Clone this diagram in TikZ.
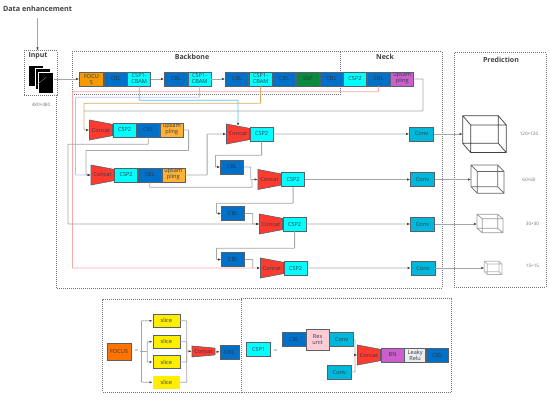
\documentclass[tikz,border=0pt]{standalone}
\usepackage{fontspec}
\setmainfont{Open Sans}
\usepackage{xcolor}
\usetikzlibrary{arrows.meta,positioning,calc,shapes.geometric}
\definecolor{ink}{HTML}{2B3A4A}
\definecolor{edge}{HTML}{56616B}
\definecolor{wire}{HTML}{A6A6A6}
\definecolor{cblblue}{HTML}{0070C8}
\definecolor{cspcyan}{HTML}{00FFFF}
\definecolor{focusorange}{HTML}{F59A00}
\definecolor{sspgreen}{HTML}{0A8A3C}
\definecolor{upmauve}{HTML}{CC5FCC}
\definecolor{uptan}{HTML}{FFB236}
\definecolor{concatred}{HTML}{FF3B2F}
\definecolor{convteal}{HTML}{00B8D9}
\definecolor{sliceyellow}{HTML}{FFEE00}
\definecolor{respink}{HTML}{FFCCD6}
\definecolor{leakygray}{HTML}{EDEDED}
\newcommand{\wirecube}[7]{%
  \draw[draw=#7, line width=0.7pt, shift={(#1,#2)}]
    (0,0) rectangle (#3,#4)
    (#5,#6) rectangle ++(#3,#4)
    (0,0) -- (#5,#6)
    (#3,0) -- ++(#5,#6)
    (0,#4) -- ++(#5,#6)
    (#3,#4) -- ++(#5,#6);
}

\begin{document}
\begin{tikzpicture}[
  x=1pt, y=-1pt,
  box/.style={draw=edge, line width=0.6pt, align=center, inner sep=0pt,
              minimum width=23pt, minimum height=14pt, text=ink,
              font=\fontsize{5.6}{6}\selectfont},
  cbl/.style={box, fill=cblblue},
  csp/.style={box, fill=cspcyan},
  conv/.style={box, fill=convteal, minimum width=24pt},
  concat/.style={box, fill=concatred, trapezium, trapezium stretches=true,
                 shape border rotate=270, trapezium angle=85,
                 minimum width=20pt, minimum height=23pt, text=ink},
  slice/.style={box, fill=sliceyellow, minimum width=27pt, minimum height=13pt},
  img/.style={draw=white, fill=black, line width=0.4pt, inner sep=0pt,
              minimum width=15pt, minimum height=21pt},
  frame/.style={draw=black!55, densely dotted, line width=1pt, inner sep=0pt},
  title/.style={font=\fontsize{7}{8}\selectfont\bfseries, text=black!75, inner sep=0pt},
  size/.style={font=\fontsize{4.6}{5}\selectfont, text=black!55, inner sep=0pt},
  line/.style={draw=wire, line width=0.8pt, rounded corners=0.5pt},
  arr/.style={line, -{Latex[length=3pt,width=2.4pt,color=black!75]}}
]
\useasboundingbox (0,0) rectangle (550,404);

\node[title, font=\fontsize{7.2}{8}\selectfont\bfseries] (data) at (37.5,9) {Data enhancement};
\node[frame, minimum width=33pt, minimum height=45pt] (input) at (40.5,73.5) {};
\node[title] (inputtitle) at (38,55.5) {Input};
\node[img] (img1) at (36,76) {};
\node[img] (img2) at (42.5,79) {};
\node[img] (img3) at (46,83) {};
\draw[black!45, line width=0.3pt] (img2.center) ++(-6,6) -- ++(10,-8);
\node[size] (inputsize) at (41,105) {480×480};

\node[frame, minimum width=268pt, minimum height=43pt] (backbone) at (206,73.5) {};
\node[title] (backbonetitle) at (192,57) {Backbone};
\draw[frame] (340,52) coordinate (necktl) -- (442,52) -- (442,288) -- (56,288) -- (56,96);
\node[title] (necktitle) at (385,57) {Neck};
\node[frame, minimum width=92pt, minimum height=234pt] (prediction) at (500,170) {};
\node[title] (predictiontitle) at (501,59.5) {Prediction};

\node[box, fill=focusorange, minimum width=24pt] (focus) at (91.5,79) {FOCU\\S};
\node[cbl, right=0pt of focus] (cbl1) {CBL};
\node[csp, right=0pt of cbl1] (cbam1) {CSP1-\\CBAM};
\node[cbl] (cbl2) at (176,79) {CBL};
\node[csp, right=0pt of cbl2] (cbam2) {CSP1-\\CBAM};
\node[cbl] (cbl3) at (237,79) {CBL};
\node[csp, right=0pt of cbl3] (cbam3) {CSP1-\\CBAM};
\node[cbl, right=0pt of cbam3] (cbl4) {CBL};
\node[box, fill=sspgreen, right=0pt of cbl4] (ssp) {SSP};
\node[cbl, right=0pt of ssp] (cbl5) {CBL};
\node[csp, right=0pt of cbl5] (csp1) {CSP2};
\node[cbl, right=0pt of csp1] (cbl6) {CBL};
\node[box, fill=upmauve, right=0pt of cbl6] (up1) {upsam\\pling};

\node[concat] (concat1) at (101,130) {Concat};
\node[csp, right=0pt of concat1] (csp2) {CSP2};
\node[cbl, right=0pt of csp2] (cbl7) {CBL};
\node[box, fill=uptan, right=0pt of cbl7] (up2) {upsam\\pling};

\node[concat] (concat2) at (102.5,175) {Concat};
\node[csp, right=0pt of concat2] (csp3) {CSP2};
\node[cbl, right=0pt of csp3] (cbl8) {CBL};
\node[box, fill=uptan, right=0pt of cbl8] (up3) {upsam\\pling};

\node[concat] (concat3) at (238,134) {Concat};
\node[csp, right=0pt of concat3] (csp4) {CSP2};
\node[cbl] (cbl9) at (232,167) {CBL};
\node[concat] (concat4) at (269.5,179.5) {Concat};
\node[csp, right=0pt of concat4] (csp5) {CSP2};
\node[cbl] (cbl10) at (233,213.5) {CBL};
\node[concat] (concat5) at (271,224) {Concat};
\node[csp, right=0pt of concat5] (csp6) {CSP2};
\node[cbl] (cbl11) at (233,259.5) {CBL};
\node[concat] (concat6) at (272,268) {Concat};
\node[csp, right=0pt of concat6] (csp7) {CSP2};

\node[conv] (conv1) at (421.5,134) {Conv};
\node[conv] (conv2) at (422.5,179.5) {Conv};
\node[conv] (conv3) at (422.5,224) {Conv};
\node[conv] (conv4) at (423,268) {Conv};

\wirecube{462.7}{115.7}{35.6}{27.6}{8}{9.3}{black!75}
\wirecube{471}{165}{26.7}{21.7}{6.3}{6.5}{black!60}
\wirecube{477}{214.3}{20.7}{14}{5.3}{4.5}{black!40}
\wirecube{484.3}{261.3}{14.7}{10.4}{3}{2.7}{black!30}
\coordinate (cube1) at (462.7,134);
\coordinate (cube2) at (471,179.5);
\coordinate (cube3) at (477,224);
\coordinate (cube4) at (484.3,268);
\node[size] (size1) at (529,134) {120×120};
\node[size] (size2) at (529,179.5) {60×60};
\node[size] (size3) at (532.5,224) {30×30};
\node[size] (size4) at (532.5,266) {15×15};

\draw[arr, shorten <=6pt] (data.south) -- (data.south |- input.north);
\draw[arr] (img3.east |- focus.west) -- (focus);
\draw[arr] (cbam1) -- (cbl2);
\draw[arr] (cbam2) -- (cbl3);

\draw[line, draw=red!35] (cbl6.south) -- ++(0,5.5) -| (72.5,268) coordinate (pinkturn);
\draw[arr, draw=red!35] (pinkturn) -- (concat6.west);
\draw[arr, draw=blue!25] (cbam2.south) -- ++(0,11) -| (75.5,175) -- (concat2.west);
\draw[arr, draw=cyan!70] (cbam1.south) -- ++(0,14) -| (concat3.north);
\draw[arr, draw=uptan!60!wire] (cbam3.south) -- ++(0,17) -| (84,130) -- (concat1.west);
\draw[line] (up1.east) -- ++(9,0) |- (84,111);
\draw[arr] (up2.east) -- ++(5,0) |- (86,150.5) |- (concat2.west);
\draw[arr] (cbl7.south) -- ++(0,7) -| (68,224) -- (concat5.west);
\draw[arr] (up3.east) -- ++(22,0) |- (concat3.west);
\draw[arr] (csp4.south) -- ++(0,14) -| (215.5,167) -- (cbl9.west);
\draw[line] (cbl9.east) -- ++(7,0) |- (concat4.west);
\draw[arr] (cbl8.south) -- ++(0,5) -| (252,179.5) -- (concat4.west);
\draw[arr] (csp5.south) -- ++(0,16.5) -| (216.5,213.5) -- (cbl10.west);
\draw[arr] (cbl10.east) -- ++(8,0) |- (concat5.west);
\draw[arr] (csp6.south) -- ++(0,17) -| (216.5,259.5) -- (cbl11.west);
\draw[line] (cbl11.east) -- ++(8,0) -- ++(0,8.5);

\draw[arr] (csp4) -- (conv1);
\draw[arr] (csp5) -- (conv2);
\draw[arr] (csp6) -- (conv3);
\draw[arr] (csp7) -- (conv4);
\draw[arr] (conv1) -- (cube1);
\draw[arr] (conv2) -- (cube2);
\draw[arr] (conv3) -- (cube3);
\draw[arr] (conv4) -- (cube4);

\node[frame, minimum width=139pt, minimum height=93pt] (focusframe) at (172.2,345.5) {};
\node[frame, minimum width=210pt, minimum height=94pt] (cspframe) at (346.7,345) {};
\node[box, fill=orange!90!red, minimum width=24pt, minimum height=17pt] (focusk) at (119,351.8) {FOCUS};
\node[inner sep=0pt, size, font=\fontsize{6}{6}\selectfont] (eqf) at (136.7,351.3) {=};
\node[slice] (slice1) at (166.3,320.8) {slice};
\node[slice] (slice2) at (166.3,341.7) {slice};
\node[slice] (slice3) at (166.3,362) {slice};
\node[slice, draw=none] (slice4) at (166.3,382.3) {slice};
\node[concat, minimum width=11pt, trapezium angle=86] (concatf) at (203.5,351.5) {Concat};
\node[cbl, minimum width=19pt] (cblf) at (229.5,352) {CBL};
\coordinate (forkf) at (141.5,351.3);
\coordinate (forkg) at (147.3,351.3);
\coordinate (mergef) at (186.7,351.3);
\draw[line] (eqf.east) ++(1,0) -- (forkg);
\draw[arr] (forkf) |- (slice1);
\draw[arr] (forkf) |- (slice4);
\draw[arr] (forkg) |- (slice2);
\draw[arr] (forkg) |- (slice3);
\draw[line] (slice1) -| (mergef);
\draw[line] (slice2) -| (mergef);
\draw[line] (slice3) -| (mergef);
\draw[line] (slice4) -| (mergef);
\draw[arr] (mergef) -- (concatf);
\draw[arr] (concatf) -- (cblf);

\node[csp, minimum width=24pt] (cspk) at (258.7,349) {CSP1};
\node[inner sep=0pt, size, font=\fontsize{6}{6}\selectfont] (eqc) at (275.7,351) {=};
\node[cbl] (cblc) at (294,339.7) {CBL};
\node[box, fill=respink, minimum height=21pt, right=0pt of cblc] (res) {Res\\unit};
\node[conv, right=0pt of res] (convc1) {Conv};
\node[conv] (convc2) at (339.3,372) {Conv};
\node[concat] (concatc) at (369,355) {Concat};
\node[box, fill=upmauve, right=0pt of concatc] (bn) {BN};
\node[box, fill=leakygray, minimum width=21pt, right=0pt of bn] (leaky) {Leaky\\Relu};
\node[cbl, minimum width=22pt, right=0pt of leaky] (cblc2) {CBL};
\coordinate (mergec) at (355,355);
\draw[line] (convc1) -| (mergec);
\draw[line] (convc2) -| (mergec);
\draw[arr] (mergec) -- (concatc);
\end{tikzpicture}
\end{document}
